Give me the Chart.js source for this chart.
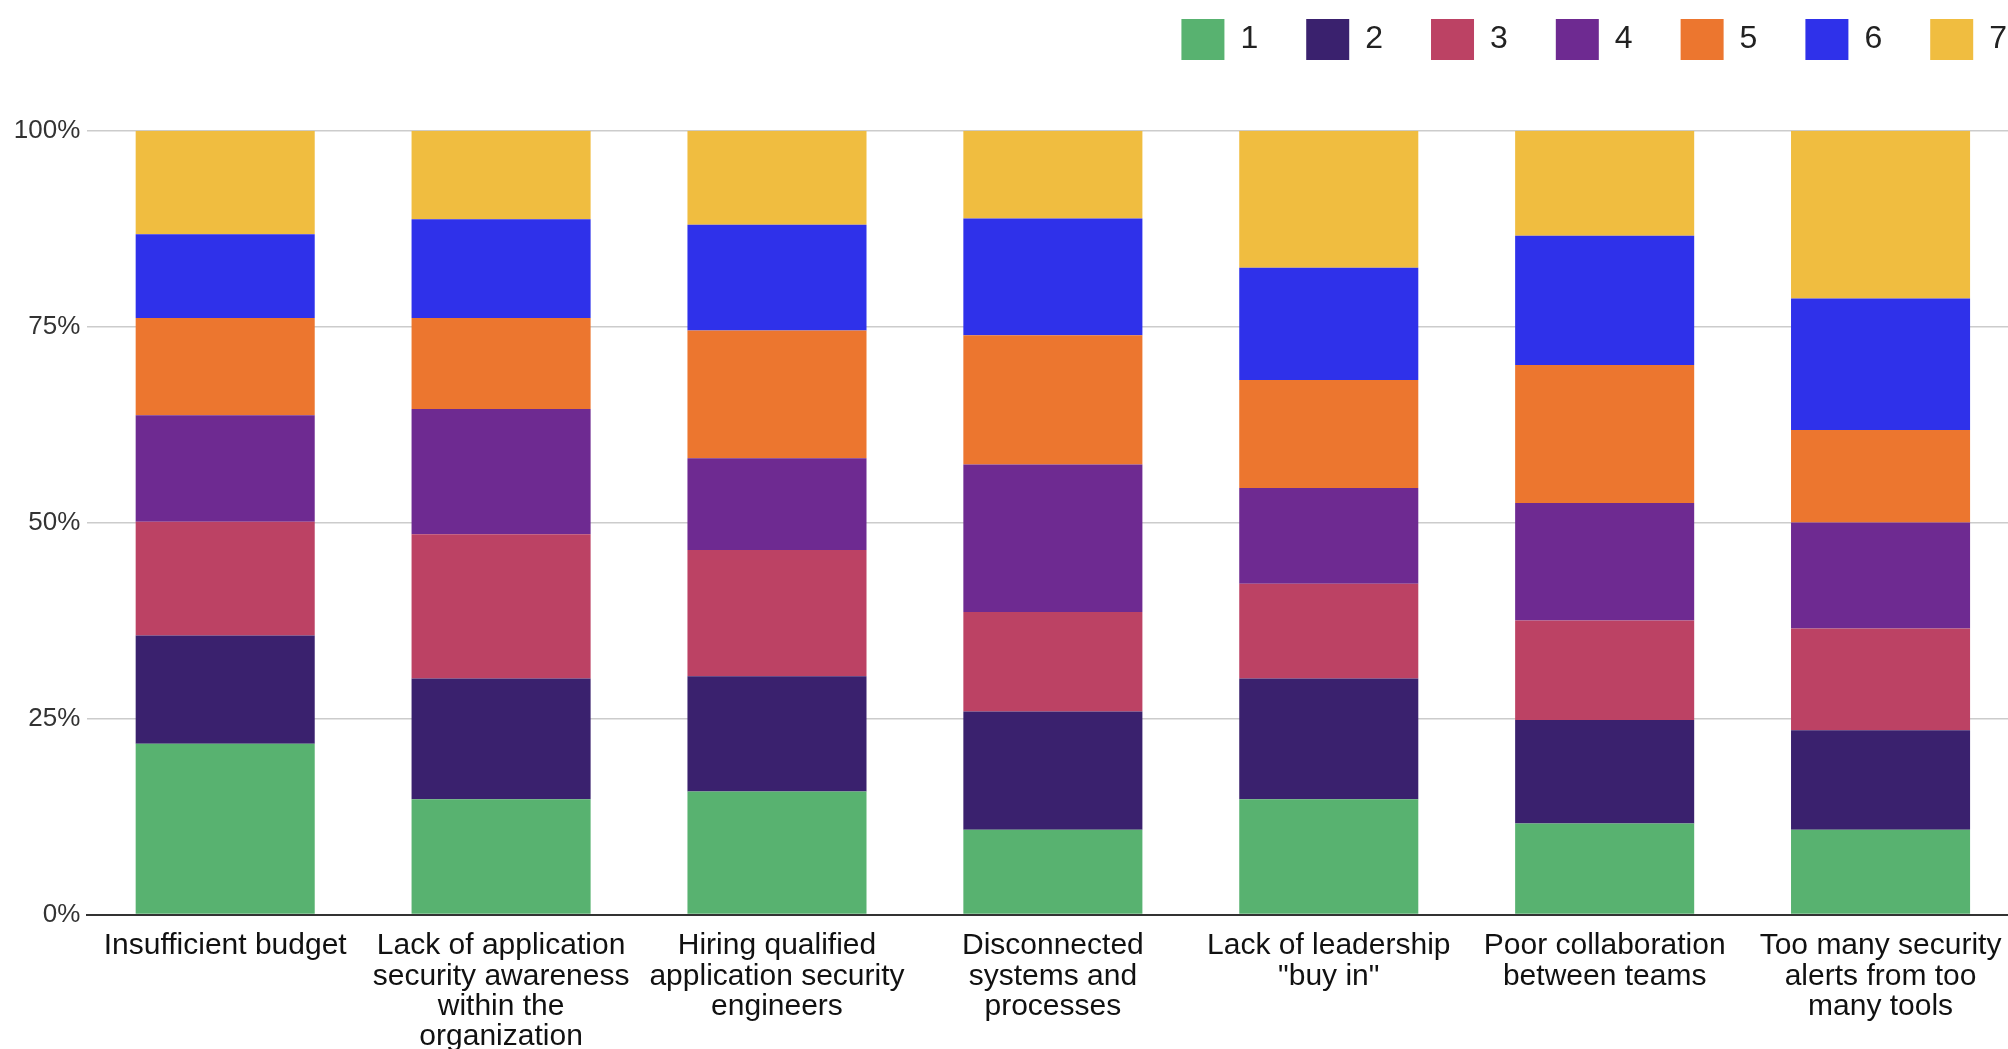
<!DOCTYPE html>
<html>
<head>
<meta charset="utf-8">
<title>Top application security challenges by rank</title>
<script src="https://cdn.jsdelivr.net/npm/chart.js@4/dist/chart.umd.min.js"></script>
<style>
  html, body { margin: 0; padding: 0; background: #ffffff; overflow: hidden; }
  #wrap { position: absolute; left: 0; top: 0; width: 2055px; height: 1049px; }
  canvas { display: block; }
</style>
</head>
<body>
<div id="wrap"><canvas id="chart" width="2055" height="1049"></canvas></div>
<script>
// Challenges, each label split into its display lines
const categories = [
  ['Insufficient budget'],
  ['Lack of application', 'security awareness', 'within the', 'organization'],
  ['Hiring qualified', 'application security', 'engineers'],
  ['Disconnected', 'systems and', 'processes'],
  ['Lack of leadership', '"buy in"'],
  ['Poor collaboration', 'between teams'],
  ['Too many security', 'alerts from too', 'many tools']
];

// Rank names shown in the legend
const rankNames = ['1', '2', '3', '4', '5', '6', '7'];

// Share of respondents (%) giving each rank, one value per challenge
const rank1 = [21.8, 14.7, 15.7, 10.8, 14.7, 11.6, 10.8];
const rank2 = [13.8, 15.4, 14.7, 15.1, 15.4, 13.2, 12.7];
const rank3 = [14.5, 18.4, 16.1, 12.7, 12.1, 12.7, 13.0];
const rank4 = [13.6, 16.0, 11.7, 18.8, 12.2, 15.0, 13.5];
const rank5 = [12.4, 11.6, 16.3, 16.5, 13.8, 17.6, 11.8];
const rank6 = [10.7, 12.6, 13.5, 14.9, 14.3, 16.5, 16.8];
const rank7 = [13.2, 11.3, 12.0, 11.2, 17.5, 13.4, 21.4];

// Y axis tick values
const yTickValues = [0, 25, 50, 75, 100];

const rankColors = ['#58b270', '#3a216e', '#bc4264', '#6e2a91', '#ec762f', '#2f31ea', '#f0bd40'];
const rankValues = [rank1, rank2, rank3, rank4, rank5, rank6, rank7];

const datasets = rankNames.map((name, i) => ({
  label: name,
  data: rankValues[i],
  backgroundColor: rankColors[i],
  borderWidth: 0,
  categoryPercentage: 1,
  barPercentage: 0.649
}));

// Give the legend band a fixed height so the plot starts at the right place
const legendBand = {
  id: 'legendBand',
  beforeInit(chart) {
    const fit = chart.legend.fit;
    chart.legend.fit = function () {
      fit.call(this);
      this.height = 159.7;
    };
  }
};

const FONT = "'Liberation Sans', Arial, Helvetica, sans-serif";

new Chart(document.getElementById('chart'), {
  type: 'bar',
  data: { labels: categories, datasets },
  plugins: [legendBand],
  options: {
    responsive: false,
    animation: false,
    devicePixelRatio: 1,
    layout: { padding: { top: -29, left: 0, right: 0, bottom: 0 } },
    plugins: {
      tooltip: { enabled: false },
      legend: {
        position: 'top',
        align: 'end',
        labels: {
          boxWidth: 43,
          boxHeight: 41,
          padding: 48,
          color: '#222222',
          font: { family: FONT, size: 32 }
        }
      }
    },
    scales: {
      x: {
        stacked: true,
        z: 1,
        grid: { display: false, drawTicks: false },
        border: { display: true, color: '#333333', width: 2 },
        ticks: {
          padding: 16.5,
          color: '#111111',
          autoSkip: false,
          maxRotation: 0,
          minRotation: 0,
          font: { family: FONT, size: 30, lineHeight: 1.01 }
        },
        afterFit(scale) { scale.height = 134.5; }
      },
      y: {
        stacked: true,
        min: 0,
        max: 100,
        afterBuildTicks(scale) { scale.ticks = yTickValues.map(v => ({ value: v })); },
        ticks: {
          padding: 7,
          color: '#333333',
          font: { family: FONT, size: 26 },
          callback: v => v + '%'
        },
        grid: {
          drawTicks: false,
          lineWidth: 1.5,
          color: c => (c.tick && c.tick.value === 0) ? 'rgba(0,0,0,0)' : '#cccccc'
        },
        border: { display: false },
        afterFit(scale) { scale.width = 87.25; }
      },
      rightGutter: {
        position: 'right',
        display: true,
        grid: { display: false, drawTicks: false },
        border: { display: false },
        ticks: { display: false },
        afterFit(scale) { scale.width = 36.5; }
      }
    }
  }
});
</script>
</body>
</html>
